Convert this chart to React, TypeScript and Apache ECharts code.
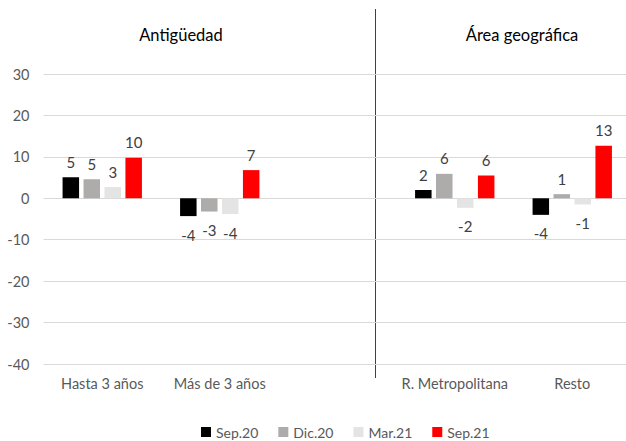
import React, { useEffect, useRef } from "react";
import * as echarts from "echarts";

const categories = ["Hasta 3 años", "Más de 3 años", "", "R. Metropolitana", "Resto"];
const seriesNames = ["Sep.20", "Dic.20", "Mar.21", "Sep.21"];
const sep20 = [5.1, -4.3, null, 2.0, -4.0];
const dic20 = [4.6, -3.2, null, 5.9, 1.0];
const mar21 = [2.7, -3.8, null, -2.3, -1.5];
const sep21 = [9.8, 6.8, null, 5.5, 12.7];
const colors = ["#000000", "#AEABAB", "#E4E4E4", "#FF0000"];
const yTicks = { min: -40, max: 30, interval: 10 };
const headers = ["Antigüedad", "Área geográfica"];

const FONT = "Lato, 'Open Sans', sans-serif";

export default function App() {
  const ref = useRef<HTMLDivElement>(null);
  useEffect(() => {
    if (!ref.current) return;
    const chart = echarts.init(ref.current, undefined, { renderer: "svg" });
    const all = [sep20, dic20, mar21, sep21];
    const series = all.map((arr, i) => ({
      name: seriesNames[i],
      type: "bar",
      barWidth: 16.5,
      barGap: "27%",
      itemStyle: { color: colors[i] },
      data: arr.map((v) =>
        v === null
          ? null
          : {
              value: v,
              label: {
                show: true,
                position: v >= 0 ? "top" : "bottom",
                distance: v >= 0 ? 8 : 11,
                formatter: () => String(Math.round(v)),
                color: "#404040",
                fontSize: 15,
                fontFamily: FONT,
              },
            }
      ),
    }));
    chart.setOption({
      animation: false,
      textStyle: { fontFamily: FONT },
      grid: { left: 43.5, right: 9, top: 74, bottom: 77, containLabel: false },
      xAxis: {
        type: "category",
        data: categories,
        axisLine: { show: false, onZero: false },
        axisTick: { show: false },
        axisLabel: { color: "#595959", fontSize: 14.5, margin: 12, interval: 0, fontFamily: FONT },
        splitLine: { show: false },
      },
      yAxis: {
        type: "value",
        min: yTicks.min,
        max: yTicks.max,
        interval: yTicks.interval,
        axisLine: { show: false },
        axisTick: { show: false },
        axisLabel: { color: "#595959", fontSize: 14.5, margin: 14, fontFamily: FONT },
        splitLine: { lineStyle: { color: "#D9D9D9", width: 1 } },
      },
      legend: {
        data: seriesNames,
        left: 201,
        top: 425,
        padding: 0,
        icon: "rect",
        itemWidth: 10,
        itemHeight: 10,
        itemGap: 20,
        textStyle: { color: "#595959", fontSize: 14, fontFamily: FONT },
      },
      graphic: [
        {
          type: "line",
          shape: { x1: 375.5, y1: 9, x2: 375.5, y2: 378 },
          style: { stroke: "#404040", lineWidth: 1 },
        },
        {
          type: "text",
          x: 181,
          y: 35,
          style: {
            text: headers[0],
            fill: "#000000",
            fontSize: 16.5,
            fontFamily: FONT,
            align: "center",
            verticalAlign: "middle",
          },
        },
        {
          type: "text",
          x: 522,
          y: 35,
          style: {
            text: headers[1],
            fill: "#000000",
            fontSize: 16.5,
            fontFamily: FONT,
            align: "center",
            verticalAlign: "middle",
          },
        },
      ],
      series,
    });
    return () => chart.dispose();
  }, []);
  return (
    <div
      ref={ref}
      style={{ position: "fixed", left: 0, top: 0, width: 640, height: 441, background: "#fff" }}
    />
  );
}
